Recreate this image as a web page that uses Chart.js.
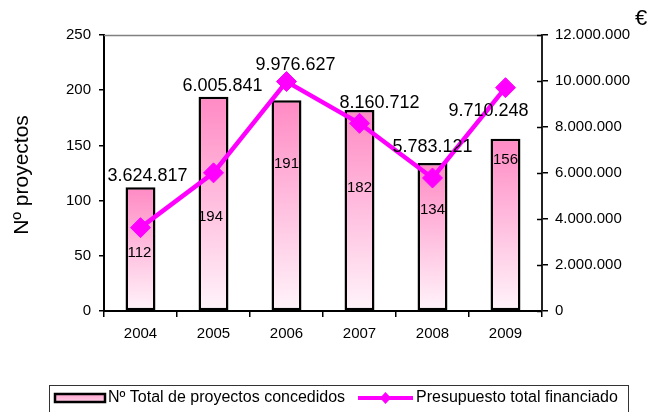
<!DOCTYPE html>
<html>
<head>
<meta charset="utf-8">
<script src="https://cdn.jsdelivr.net/npm/chart.js@4/dist/chart.umd.min.js"></script>
<style>
  html, body { margin: 0; padding: 0; background: #fff; }
  #wrap { width: 653px; height: 412px; position: relative; }
</style>
</head>
<body>
<div id="wrap"><canvas id="c" width="653" height="412"></canvas></div>
<script>
// ---- Data ----
const years = ['2004', '2005', '2006', '2007', '2008', '2009'];
const proyectos = [112, 194, 191, 182, 134, 156];
const presupuesto = [3624817, 6005841, 9976627, 8160712, 5783121, 9710248];
const leftAxisMax = 250, leftAxisStep = 50;
const rightAxisMax = 12000000, rightAxisStep = 2000000;
const seriesNames = ['Nº Total de proyectos concedidos', 'Presupuesto total financiado'];
const yTitle = 'Nº proyectos';
const rightUnit = '€';

// ---- Layout (label offsets in px, relative to the mark) ----
const barLabelOffset = [[-1, 66], [-3, 120], [0, 64], [0, 78], [0, 47], [0, 21]];
const lineLabelOffset = [[7, -52], [9, -87], [9, -17], [20, -20], [0, -31], [-17, 23]];

const FONT = '"Liberation Sans", Arial, Helvetica, sans-serif';
const fmt = v => String(Math.round(v)).replace(/\B(?=(\d{3})+(?!\d))/g, '.');

const decor = {
  id: 'decor',
  beforeDatasetsDraw(chart) {
    const { ctx, chartArea: a } = chart;
    ctx.save();
    ctx.strokeStyle = '#808080';
    ctx.lineWidth = 1.5;
    ctx.beginPath();
    ctx.moveTo(a.left, a.top + 0.5);
    ctx.lineTo(a.right, a.top + 0.5);
    ctx.stroke();
    // right-axis ticks also cross inward
    const y1 = chart.scales.y1;
    ctx.strokeStyle = '#000';
    ctx.lineWidth = 1.5;
    y1.ticks.forEach(t => {
      const py = Math.round(y1.getPixelForValue(t.value)) + 0.5;
      ctx.beginPath();
      ctx.moveTo(a.right - 5, py);
      ctx.lineTo(a.right, py);
      ctx.stroke();
    });
    ctx.restore();
  },
  afterDatasetsDraw(chart) {
    const { ctx } = chart;
    const x = chart.scales.x, y = chart.scales.y, y1 = chart.scales.y1;
    ctx.save();
    ctx.fillStyle = '#000';
    ctx.textAlign = 'center';
    ctx.textBaseline = 'middle';
    ctx.font = '15px ' + FONT;
    proyectos.forEach((v, i) => {
      const px = x.getPixelForValue(i), py = y.getPixelForValue(v);
      ctx.fillText(String(v), px + barLabelOffset[i][0], py + barLabelOffset[i][1]);
    });
    ctx.font = '18px ' + FONT;
    presupuesto.forEach((v, i) => {
      const px = x.getPixelForValue(i), py = y1.getPixelForValue(v);
      ctx.fillText(fmt(v), px + lineLabelOffset[i][0], py + lineLabelOffset[i][1]);
    });
    // y title
    ctx.save();
    ctx.translate(22, 175);
    ctx.rotate(-Math.PI / 2);
    ctx.font = '21px ' + FONT;
    ctx.fillText(yTitle, 0, 0);
    ctx.restore();
    // unit
    ctx.font = '22px ' + FONT;
    ctx.fillText(rightUnit, 641, 19);

    // legend
    ctx.strokeStyle = '#333';
    ctx.lineWidth = 1;
    ctx.strokeRect(49.5, 385.5, 579, 40);
    const g = ctx.createLinearGradient(0, 393, 0, 403);
    g.addColorStop(0, '#ffa0cf');
    g.addColorStop(1, '#ffd2e8');
    ctx.fillStyle = g;
    ctx.fillRect(55, 394, 50, 8);
    ctx.strokeStyle = '#000';
    ctx.lineWidth = 2.5;
    ctx.strokeRect(55, 394, 50, 8);
    ctx.fillStyle = '#000';
    ctx.textAlign = 'left';
    ctx.font = '16px ' + FONT;
    ctx.fillText(seriesNames[0], 108, 398);
    ctx.strokeStyle = '#ff00ff';
    ctx.lineWidth = 4;
    ctx.beginPath();
    ctx.moveTo(358, 398);
    ctx.lineTo(413, 398);
    ctx.stroke();
    ctx.fillStyle = '#ff00ff';
    ctx.beginPath();
    ctx.moveTo(385.5, 392); ctx.lineTo(391, 398); ctx.lineTo(385.5, 404); ctx.lineTo(380, 398);
    ctx.closePath();
    ctx.fill();
    ctx.fillStyle = '#000';
    ctx.fillText(seriesNames[1], 416, 398);
    ctx.restore();
  }
};

new Chart(document.getElementById('c'), {
  data: {
    labels: years,
    datasets: [
      {
        type: 'line',
        label: seriesNames[1],
        data: presupuesto,
        yAxisID: 'y1',
        borderColor: '#ff00ff',
        backgroundColor: '#ff00ff',
        borderWidth: 4.5,
        pointStyle: 'rectRot',
        pointRadius: 10,
        pointBorderWidth: 1,
        pointBackgroundColor: '#ff00ff',
        pointBorderColor: '#ff00ff',
        tension: 0,
        order: 0
      },
      {
        type: 'bar',
        label: seriesNames[0],
        data: proyectos,
        yAxisID: 'y',
        backgroundColor: (c) => {
          const chart = c.chart, a = chart.chartArea;
          if (!a || c.type !== 'data' || !chart.scales.y) return '#ffb3d9';
          const top = chart.scales.y.getPixelForValue(c.raw);
          const g = chart.ctx.createLinearGradient(0, top, 0, a.bottom);
          g.addColorStop(0, '#ff8ac4');
          g.addColorStop(1, '#fff4fa');
          return g;
        },
        borderColor: '#000',
        borderWidth: 2.5,
        borderSkipped: false,
        categoryPercentage: 1,
        barPercentage: 0.41,
        order: 1
      }
    ]
  },
  options: {
    responsive: false,
    animation: false,
    devicePixelRatio: 1,
    layout: { padding: { top: 35, left: 0, right: 0, bottom: 0 } },
    plugins: { legend: { display: false }, tooltip: { enabled: false } },
    scales: {
      x: {
        grid: { offset: true, drawOnChartArea: false, drawTicks: true, tickLength: 6, color: '#000', lineWidth: 1.5 },
        border: { color: '#000', width: 2 },
        ticks: { font: { size: 15, family: FONT }, color: '#000', padding: 8, maxRotation: 0 },
        afterFit(s) { s.height = 101; }
      },
      y: {
        position: 'left',
        min: 0, max: leftAxisMax,
        ticks: { stepSize: leftAxisStep, font: { size: 15, family: FONT }, color: '#000', padding: 8 },
        grid: { drawOnChartArea: false, drawTicks: true, tickLength: 5, color: '#000', lineWidth: 1.5 },
        border: { color: '#000', width: 2 },
        afterFit(s) { s.width = 104; }
      },
      y1: {
        position: 'right',
        min: 0, max: rightAxisMax,
        ticks: { stepSize: rightAxisStep, callback: v => fmt(v), font: { size: 15, family: FONT }, color: '#000', padding: 7 },
        grid: { drawOnChartArea: false, drawTicks: true, tickLength: 6, color: '#000', lineWidth: 1.5 },
        border: { color: '#222', width: 2 },
        afterFit(s) { s.width = 111; }
      }
    }
  },
  plugins: [decor]
});
</script>
</body>
</html>
